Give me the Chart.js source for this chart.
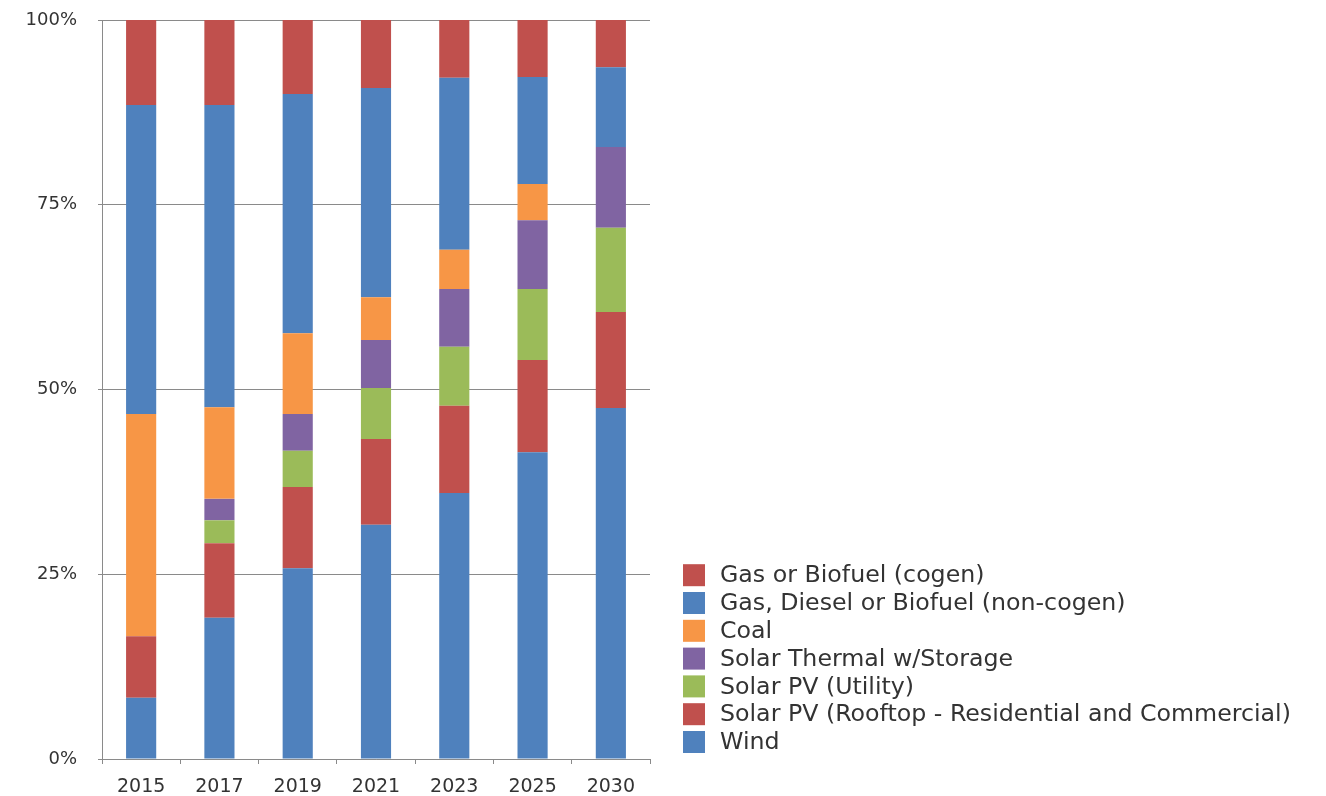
<!DOCTYPE html>
<html><head><meta charset="utf-8">
<script src="https://cdn.jsdelivr.net/npm/chart.js@4/dist/chart.umd.min.js"></script>
<style>html,body{margin:0;padding:0;background:#fff;overflow:hidden}#wrap{width:1326px;height:796px}</style>
</head><body><div id="wrap"><canvas id="c" width="1326" height="796"></canvas></div>
<script>
const categories = ['2015','2017','2019','2021','2023','2025','2030'];
const wind         = [8.3, 19.1, 25.8, 31.7, 36.0, 41.5, 47.5];
const solarRooftop = [8.3, 10.1, 11.0, 11.6, 11.8, 12.5, 13.0];
const solarUtility = [0,   3.1,  4.9,  6.9,  8.0,  9.6,  11.4];
const solarThermal = [0,   2.9,  5.0,  6.5,  7.8,  9.3,  10.9];
const coal         = [30.1,12.4, 10.9, 5.8,  5.3,  4.9,  0];
const gasNonCogen  = [41.8,40.9, 32.4, 28.3, 23.3, 14.5, 10.8];
const gasCogen     = [11.5,11.5, 10.0, 9.2,  7.8,  7.7,  6.4];
const yTickValues  = [0, 25, 50, 75, 100];

const seriesNames = ['Wind','Solar PV (Rooftop - Residential and Commercial)','Solar PV (Utility)','Solar Thermal w/Storage','Coal','Gas, Diesel or Biofuel (non-cogen)','Gas or Biofuel (cogen)'];
const seriesData = [wind, solarRooftop, solarUtility, solarThermal, coal, gasNonCogen, gasCogen];
const seriesColors = ['#4F81BD','#C0504D','#9BBB59','#8064A2','#F79646','#4F81BD','#C0504D'];

const FONT = '"DejaVu Sans", Verdana, sans-serif';
const TEXT = '#333333', GRID = '#8a8a8a';

const datasets = seriesNames.map((name, i) => ({
  label: name, data: seriesData[i], backgroundColor: seriesColors[i], borderWidth: 0,
  categoryPercentage: 1.0, barPercentage: 0.385
}));

// Legend drawn from the chart's own datasets, bottom-aligned to the plot, to the right
const sideLegend = {
  id: 'sideLegend',
  afterDraw(chart) {
    const ctx = chart.ctx, area = chart.chartArea;
    const ds = chart.data.datasets.slice().reverse();
    const rowH = 27.8, box = 22, boxX = 683, textX = 720;
    const lastCenter = area.bottom - 17;
    ctx.save();
    ctx.font = '23.7px ' + FONT;
    ctx.textBaseline = 'middle';
    ctx.textAlign = 'left';
    ds.forEach((d, i) => {
      const cy = lastCenter - (ds.length - 1 - i) * rowH;
      ctx.fillStyle = d.backgroundColor;
      ctx.fillRect(boxX, cy - box / 2, box, box);
      ctx.fillStyle = TEXT;
      ctx.fillText(d.label, textX, cy + 1);
    });
    ctx.restore();
  }
};

new Chart(document.getElementById('c'), {
  type: 'bar',
  data: { labels: categories, datasets },
  plugins: [sideLegend],
  options: {
    responsive: false, animation: false, devicePixelRatio: 1,
    layout: { padding: { left: 0, right: 1326 - 650, top: 20, bottom: 0 } },
    plugins: { tooltip: { enabled: false }, legend: { display: false } },
    scales: {
      x: {
        stacked: true,
        afterFit: s => { s.height = 37; },
        grid: { offset: true, drawOnChartArea: false, tickLength: 5, color: GRID },
        border: { color: GRID, width: 1 },
        ticks: { color: TEXT, font: { family: FONT, size: 19 }, padding: 12, maxRotation: 0 }
      },
      y: {
        stacked: true, min: yTickValues[0], max: yTickValues[yTickValues.length - 1],
        afterFit: s => { s.width = 102; s.paddingTop = 0; s.paddingBottom = 0; },
        grid: { color: GRID, tickLength: 4 },
        border: { color: GRID, width: 1 },
        ticks: { color: TEXT, font: { family: FONT, size: 18 }, padding: 21,
                 stepSize: yTickValues[1] - yTickValues[0], callback: v => v + '%' }
      }
    }
  }
});
</script></body></html>
